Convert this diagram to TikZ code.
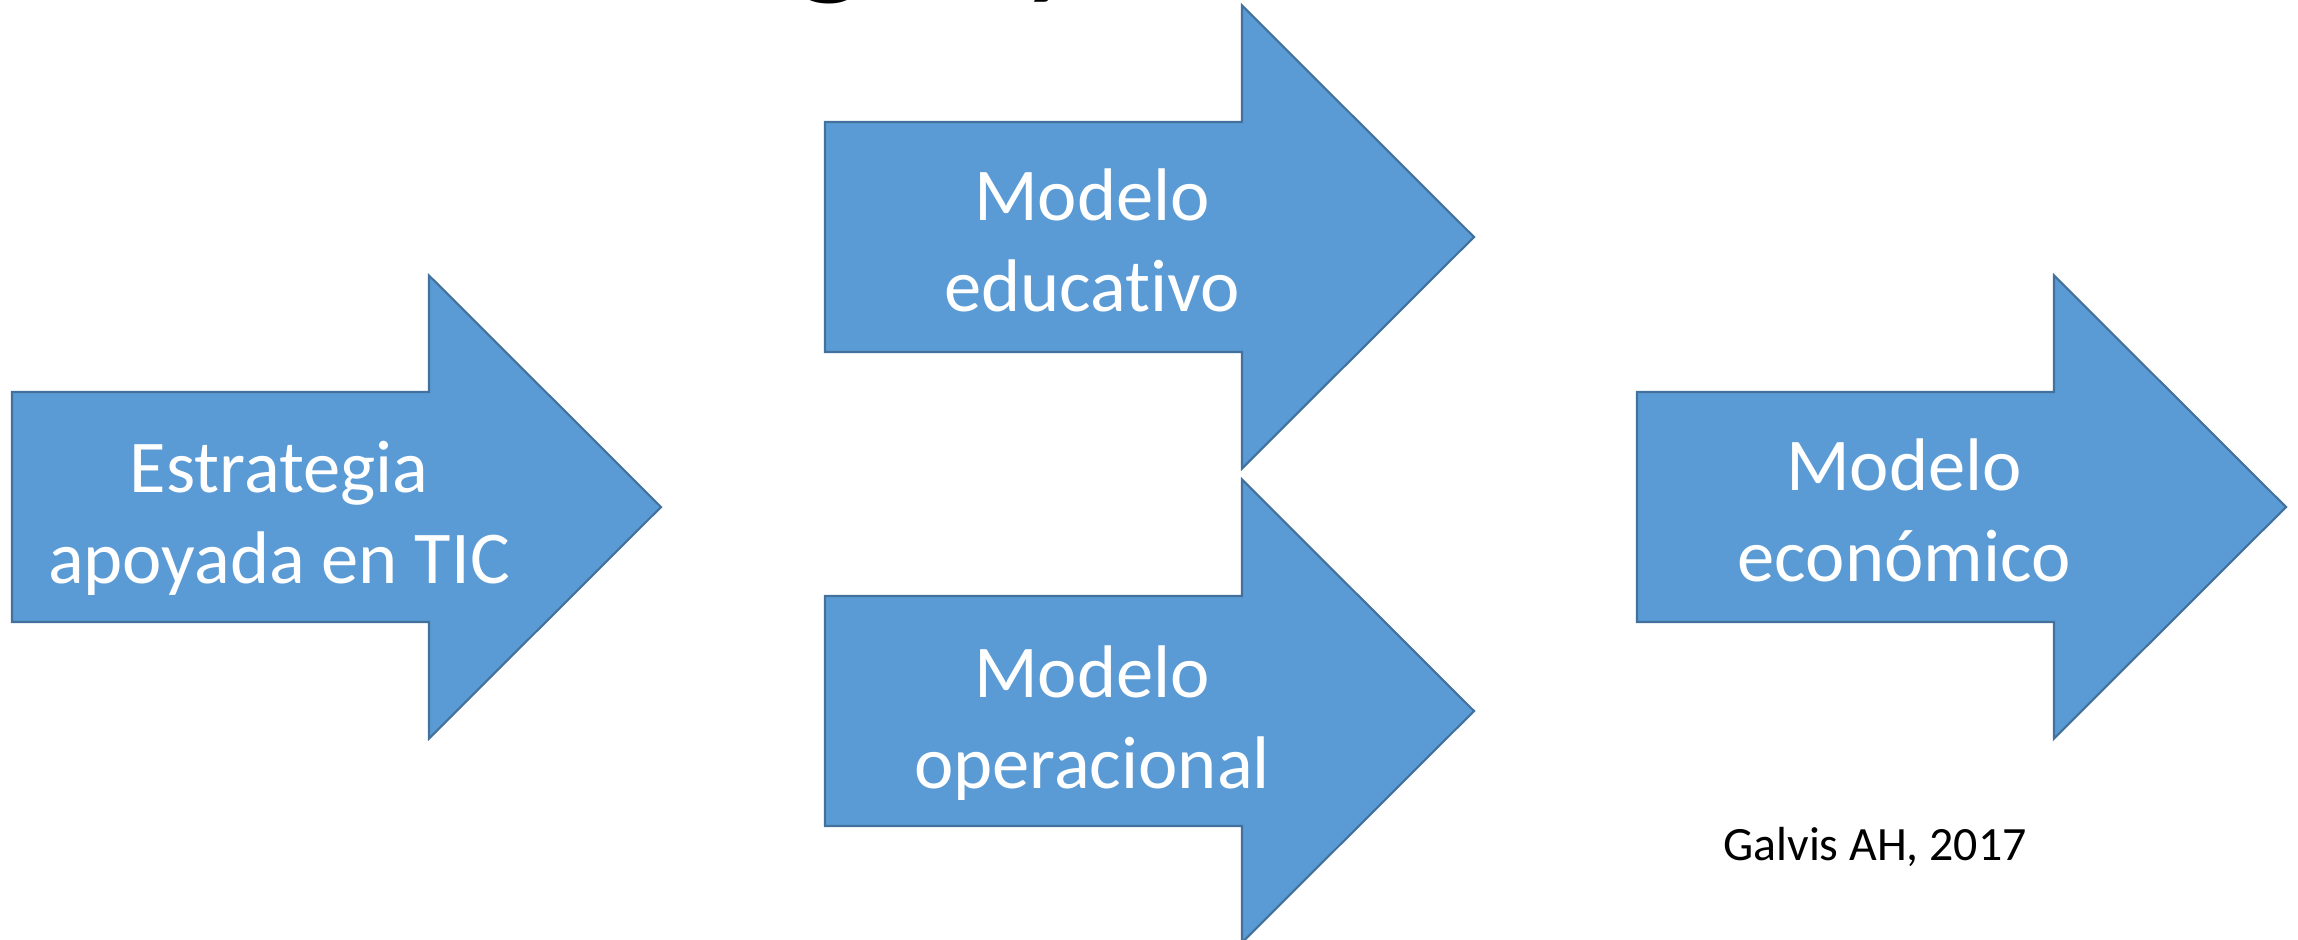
\documentclass[tikz,border=0pt]{standalone}
\usepackage{fontspec}
\setmainfont{Carlito}[RawFeature=-liga]
\usetikzlibrary{positioning}
\definecolor{azul}{HTML}{5B9BD5}
\definecolor{borde}{HTML}{41719C}

\begin{document}
\begin{tikzpicture}[x=0.01cm,y=-0.01cm,
	flecha/.style={fill=azul,draw=borde,line width=0.6pt,line join=miter},
	rotulo/.style={text=white,align=center,inner sep=0pt,font=\fontsize{21.2}{25.9}\selectfont}]
	\useasboundingbox (0,0) rectangle (2298,939);
	\newcommand{\flecha}[2]{\filldraw[flecha] (#1,#2-115) -- ++(417,0) -- ++(0,-116.5) -- ++(232,231.5) -- ++(-232,231.5) -- ++(0,-116.5) -- ++(-417,0) -- cycle;} %x izq., y centro
	\node[anchor=base west,inner sep=0pt,font=\fontsize{45.5}{50}\selectfont] (titulo) at (340,-24) {Estrategia y}; %titulo cortado
	\flecha{12}{507} %TIC
	\flecha{825}{237} %educativo
	\flecha{825}{711} %operacional
	\flecha{1637}{507} %economico
	\node[rotulo] (estrategia) at (279,518) {Estrategia\\apoyada en TIC};
	\node[rotulo] (educativo) at (1092,240) {Modelo\\educativo};
	\node[rotulo] (operacional) at (1092,723) {Modelo\\operacional};
	\node[rotulo] (economico) at (1904,510) {Modelo\\económico};
	\node[anchor=base,inner sep=0pt,font=\fontsize{13.6}{16}\selectfont] (fuente) at (1875,860) {Galvis AH, 2017};
\end{tikzpicture}
\end{document}
